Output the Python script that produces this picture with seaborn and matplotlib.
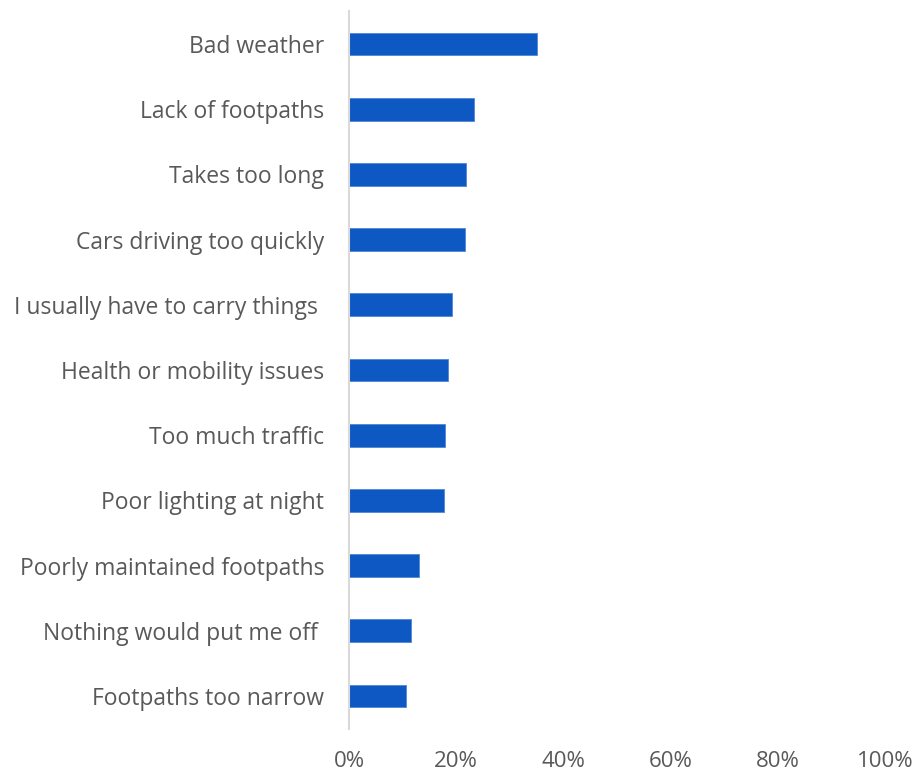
import matplotlib
matplotlib.use("Agg")
import matplotlib.pyplot as plt
import seaborn as sns
import pandas as pd
from matplotlib.ticker import PercentFormatter

reasons = [
    "Bad weather",
    "Lack of footpaths",
    "Takes too long",
    "Cars driving too quickly",
    "I usually have to carry things ",
    "Health or mobility issues",
    "Too much traffic",
    "Poor lighting at night",
    "Poorly maintained footpaths",
    "Nothing would put me off ",
    "Footpaths too narrow",
]
share = [35.0, 23.4, 21.9, 21.7, 19.3, 18.5, 17.9, 17.8, 13.0, 11.6, 10.7]

df = pd.DataFrame({"reason": reasons, "share": share})

sns.set_theme(style="white")
plt.rcParams["font.family"] = ["Open Sans", "DejaVu Sans"]

fig = plt.figure(figsize=(9.17, 7.74), dpi=100)
ax = fig.add_axes([349 / 917, 1 - 728.6 / 774, (885 - 349) / 917, (728.6 - 11.4) / 774])

sns.barplot(data=df, x="share", y="reason", color="#0E58C4", saturation=1,
            width=0.35, edgecolor="#4F86D6", linewidth=0.6, ax=ax)

ax.set_xlim(0, 100)
ax.set_xticks([0, 20, 40, 60, 80, 100])
ax.xaxis.set_major_formatter(PercentFormatter(decimals=0))
ax.set_xlabel("")
ax.set_ylabel("")
for s in ["top", "right", "bottom"]:
    ax.spines[s].set_visible(False)
ax.spines["left"].set_color("#D9D9D9")
ax.spines["left"].set_linewidth(1.5)
ax.tick_params(axis="y", length=0, pad=18, labelsize=16.5, labelcolor="#595959")
ax.tick_params(axis="x", length=0, pad=16, labelsize=16, labelcolor="#595959")

fig.savefig("out.png", dpi=100)
